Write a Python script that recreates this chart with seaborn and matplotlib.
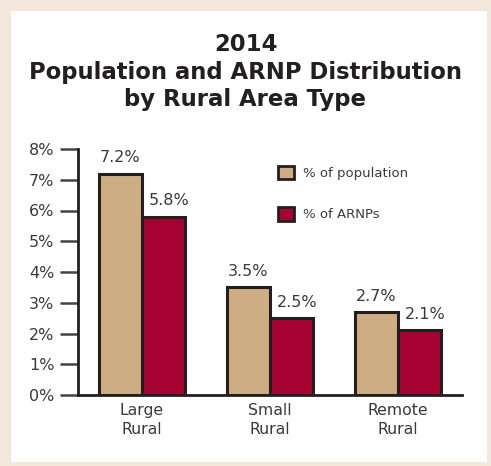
"""2014 population vs ARNP distribution by rural area type."""
import matplotlib
matplotlib.use("Agg")
import matplotlib.pyplot as plt
import matplotlib.patches as mpatches
import pandas as pd
import seaborn as sns

areas = ["Large\nRural", "Small\nRural", "Remote\nRural"]
series = ["% of population", "% of ARNPs"]
pct_population = [7.2, 3.5, 2.7]
pct_arnps = [5.8, 2.5, 2.1]
y_ticks = [0, 1, 2, 3, 4, 5, 6, 7, 8]
title = "2014\nPopulation and ARNP Distribution\nby Rural Area Type"

colors = {"% of population": "#CFAD83", "% of ARNPs": "#A60332"}
edge = "#231F20"
text_col = "#3a3a3a"

df = pd.DataFrame({
    "area": areas * 2,
    "series": [series[0]] * 3 + [series[1]] * 3,
    "value": pct_population + pct_arnps,
})

sns.set_style("white")
plt.rcParams["font.family"] = ["DejaVu Sans"]

fig = plt.figure(figsize=(4.91, 4.66), dpi=100)
fig.patch.set_facecolor("#F3E6DA")
# white panel inside the beige frame
fig.patches.append(mpatches.Rectangle(
    (11 / 491, 4 / 466), (487 - 11) / 491, (462 - 11) / 466,
    transform=fig.transFigure, facecolor="white", edgecolor="none", zorder=-5))

ax = fig.add_axes([78 / 491, 1 - 395 / 466, (462 - 78) / 491, (395 - 149) / 466])
ax.set_facecolor("none")
ax.set_zorder(2)

sns.barplot(data=df, x="area", y="value", hue="series", order=areas,
            hue_order=series, palette=colors, saturation=1, width=0.67, gap=0,
            edgecolor=edge, linewidth=2.2, ax=ax, legend=False)

for i, cont in enumerate(ax.containers):
    anns = ax.bar_label(cont, labels=[f"{v:.1f}%" for v in cont.datavalues],
                        padding=6, fontsize=11.5, color=text_col)
    if i == 1:
        # ARNP labels sit a little right of bar centre in the original
        for a in anns:
            a.xyann = (4, a.xyann[1])

ax.set_xlim(-0.5, 2.5)
ax.set_ylim(0, 8)
ax.set_yticks(y_ticks)
ax.set_yticklabels([f"{t}%" for t in y_ticks])
ax.set_xlabel("")
ax.set_ylabel("")
ax.tick_params(axis="y", length=13, width=1.8, color="#444444", labelsize=11.5,
               labelcolor=text_col, pad=4, left=True)
ax.tick_params(axis="x", length=0, labelsize=11.3, labelcolor=text_col, pad=6)
for lbl in ax.get_xticklabels():
    lbl.set_linespacing(1.3)
for s in ["top", "right"]:
    ax.spines[s].set_visible(False)
for s in ["left", "bottom"]:
    ax.spines[s].set_color(edge)
    ax.spines[s].set_linewidth(2.0)

handles = [mpatches.Patch(facecolor=colors[s], edgecolor=edge, linewidth=2.0)
           for s in series]
ax.legend(handles, series, loc="upper left", bbox_to_anchor=(0.49, 0.98),
          frameon=False, handlelength=1.2, handleheight=1.2, handletextpad=0.7,
          labelspacing=2.05, fontsize=9.5, labelcolor=text_col)

fig.text(0.5, 1 - 72 / 466, title, ha="center", va="center", fontsize=16.4,
         fontweight="bold", color="#231F20", linespacing=1.25)

fig.savefig("out.png", dpi=100, facecolor=fig.get_facecolor())
